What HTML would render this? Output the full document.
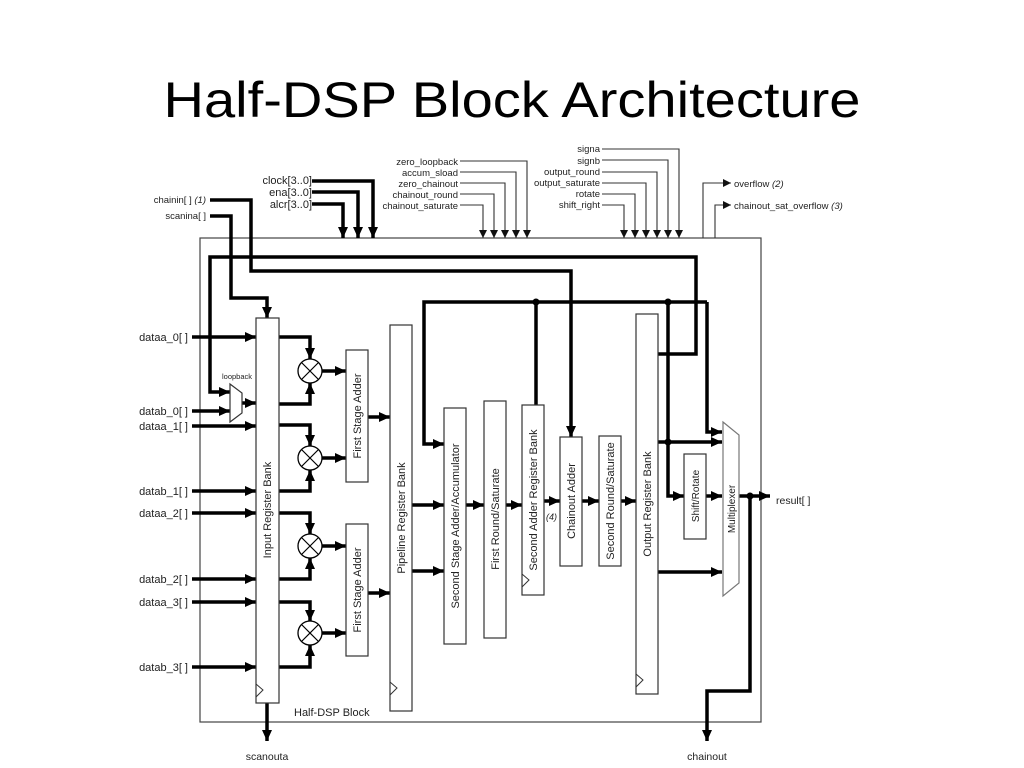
<!DOCTYPE html>
<html><head><meta charset="utf-8"><style>
html,body{margin:0;padding:0;background:#fff;}
svg{display:block;font-family:"Liberation Sans",Arial,sans-serif;}
</style></head><body>
<svg width="1024" height="768" viewBox="0 0 1024 768" xmlns="http://www.w3.org/2000/svg">
<defs>
<marker id="a" markerUnits="userSpaceOnUse" markerWidth="12" markerHeight="12" refX="11" refY="5" orient="auto"><path d="M0,0 L11,5 L0,10 z" fill="#000"/></marker>
<marker id="s" markerUnits="userSpaceOnUse" markerWidth="9" markerHeight="8" refX="8" refY="4" orient="auto"><path d="M0,0 L8,4 L0,8 z" fill="#111"/></marker>
</defs>
<text x="512" y="117" font-size="50" text-anchor="middle" textLength="697" lengthAdjust="spacingAndGlyphs" fill="#000">Half-DSP Block Architecture</text>

<!-- outer block -->
<rect x="200" y="238" width="561" height="484" fill="none" stroke="#444" stroke-width="1.2"/>
<text x="294" y="716" font-size="11" fill="#222">Half-DSP Block</text>

<g font-size="9.5" fill="#222">
<text x="312" y="184" text-anchor="end" font-size="11">clock[3..0]</text>
<text x="312" y="196" text-anchor="end" font-size="11">ena[3..0]</text>
<text x="312" y="208" text-anchor="end" font-size="11">alcr[3..0]</text>
<text x="206" y="203" text-anchor="end">chainin[ ] <tspan font-style="italic">(1)</tspan></text>
<text x="206" y="219" text-anchor="end">scanina[ ]</text>
<text x="458" y="165" text-anchor="end">zero_loopback</text>
<text x="458" y="176" text-anchor="end">accum_sload</text>
<text x="458" y="187" text-anchor="end">zero_chainout</text>
<text x="458" y="198" text-anchor="end">chainout_round</text>
<text x="458" y="209" text-anchor="end">chainout_saturate</text>
<text x="600" y="152" text-anchor="end">signa</text>
<text x="600" y="164" text-anchor="end">signb</text>
<text x="600" y="175" text-anchor="end">output_round</text>
<text x="600" y="186" text-anchor="end">output_saturate</text>
<text x="600" y="197" text-anchor="end">rotate</text>
<text x="600" y="208" text-anchor="end">shift_right</text>
<text x="734" y="187">overflow <tspan font-style="italic">(2)</tspan></text>
<text x="734" y="209">chainout_sat_overflow <tspan font-style="italic">(3)</tspan></text>
<text x="776" y="504" font-size="10.5">result[ ]</text>
<text x="267" y="760" text-anchor="middle" font-size="10.5">scanouta</text>
<text x="707" y="760" text-anchor="middle" font-size="10.5">chainout</text>
<text x="237" y="379" text-anchor="middle" font-size="7.5">loopback</text>
<text x="546" y="520" font-style="italic" font-size="9">(4)</text>
</g>
<g font-size="11" fill="#222" text-anchor="end">
<text x="188" y="341">dataa_0[ ]</text>
<text x="188" y="415">datab_0[ ]</text>
<text x="188" y="430">dataa_1[ ]</text>
<text x="188" y="495">datab_1[ ]</text>
<text x="188" y="517">dataa_2[ ]</text>
<text x="188" y="583">datab_2[ ]</text>
<text x="188" y="606">dataa_3[ ]</text>
<text x="188" y="671">datab_3[ ]</text>
</g>

<!-- thin control lines -->
<g fill="none" stroke="#333" stroke-width="1.1" marker-end="url(#s)">
<path d="M460,161 H527 V238"/>
<path d="M460,172 H516 V238"/>
<path d="M460,183 H505 V238"/>
<path d="M460,194 H494 V238"/>
<path d="M460,205 H483 V238"/>
<path d="M602,149 H679 V238"/>
<path d="M602,160 H668 V238"/>
<path d="M602,172 H657 V238"/>
<path d="M602,183 H646 V238"/>
<path d="M602,194 H635 V238"/>
<path d="M602,205 H624 V238"/>
<path d="M703,238 V183 H731"/>
<path d="M715,238 V205 H731"/>
</g>

<!-- thick wires -->
<g fill="none" stroke="#000" stroke-width="3.5">
<path d="M312,181 H373 V238" marker-end="url(#a)"/>
<path d="M312,192 H358 V238" marker-end="url(#a)"/>
<path d="M312,204 H343 V238" marker-end="url(#a)"/>
<path d="M210,200 H251 V271 H571 V437" marker-end="url(#a)"/>
<path d="M210,216 H231 V298 H267 V318" marker-end="url(#a)"/>
<path d="M658,354 H696 V257 H210 V392 H230" marker-end="url(#a)"/>
<path d="M536,405 V302"/>
<path d="M707,302 H424 V444 H444" marker-end="url(#a)"/>
<path d="M707,302 V432 H722" marker-end="url(#a)"/>
<path d="M668,302 V496 H684" marker-end="url(#a)"/>
<path d="M658,442 H722" marker-end="url(#a)"/>
<path d="M658,572 H722" marker-end="url(#a)"/>
<path d="M706,496 H722" marker-end="url(#a)"/>
<path d="M739,496 H770" marker-end="url(#a)"/>
<path d="M750,496 V691 H707 V741" marker-end="url(#a)"/>
<path d="M267,703 V741" marker-end="url(#a)"/>
<!-- data inputs -->
<path d="M192,337 H256" marker-end="url(#a)"/>
<path d="M192,411 H230" marker-end="url(#a)"/>
<path d="M242,403 H256" marker-end="url(#a)"/>
<path d="M192,426 H256" marker-end="url(#a)"/>
<path d="M192,491 H256" marker-end="url(#a)"/>
<path d="M192,513 H256" marker-end="url(#a)"/>
<path d="M192,579 H256" marker-end="url(#a)"/>
<path d="M192,602 H256" marker-end="url(#a)"/>
<path d="M192,667 H256" marker-end="url(#a)"/>
<!-- to multipliers -->
<path d="M279,337 H310 V359" marker-end="url(#a)"/>
<path d="M279,404 H310 V383" marker-end="url(#a)"/>
<path d="M279,425 H310 V446" marker-end="url(#a)"/>
<path d="M279,491 H310 V470" marker-end="url(#a)"/>
<path d="M279,513 H310 V534" marker-end="url(#a)"/>
<path d="M279,579 H310 V558" marker-end="url(#a)"/>
<path d="M279,602 H310 V621" marker-end="url(#a)"/>
<path d="M279,667 H310 V645" marker-end="url(#a)"/>
<path d="M322,371 H346" marker-end="url(#a)"/>
<path d="M322,458 H346" marker-end="url(#a)"/>
<path d="M322,546 H346" marker-end="url(#a)"/>
<path d="M322,633 H346" marker-end="url(#a)"/>
<path d="M368,417 H390" marker-end="url(#a)"/>
<path d="M368,593 H390" marker-end="url(#a)"/>
<path d="M412,505 H444" marker-end="url(#a)"/>
<path d="M412,571 H444" marker-end="url(#a)"/>
<path d="M466,505 H484" marker-end="url(#a)"/>
<path d="M506,505 H522" marker-end="url(#a)"/>
<path d="M544,501 H560" marker-end="url(#a)"/>
<path d="M582,501 H599" marker-end="url(#a)"/>
<path d="M621,501 H636" marker-end="url(#a)"/>
</g>
<g fill="#000"><circle cx="536" cy="302" r="3.5"/><circle cx="668" cy="302" r="3.5"/><circle cx="668" cy="442" r="3.5"/><circle cx="750" cy="496" r="3.5"/></g>

<!-- multipliers -->
<g fill="#fff" stroke="#000" stroke-width="1.3">
<circle cx="310" cy="371" r="12"/><circle cx="310" cy="458" r="12"/><circle cx="310" cy="546" r="12"/><circle cx="310" cy="633" r="12"/>
</g>
<g stroke="#000" stroke-width="1.2">
<path d="M302,363 L318,379 M318,363 L302,379"/>
<path d="M302,450 L318,466 M318,450 L302,466"/>
<path d="M302,538 L318,554 M318,538 L302,554"/>
<path d="M302,625 L318,641 M318,625 L302,641"/>
</g>

<!-- boxes -->
<g fill="#fff" stroke="#333" stroke-width="1.2">
<polygon points="230,384 242,393 242,413 230,422"/>
<rect x="256" y="318" width="23" height="385"/>
<rect x="346" y="350" width="22" height="132"/>
<rect x="346" y="524" width="22" height="132"/>
<rect x="390" y="325" width="22" height="386"/>
<rect x="444" y="408" width="22" height="236"/>
<rect x="484" y="401" width="22" height="237"/>
<rect x="522" y="405" width="22" height="190"/>
<rect x="560" y="437" width="22" height="129"/>
<rect x="599" y="436" width="22" height="130"/>
<rect x="636" y="314" width="22" height="380"/>
<rect x="684" y="454" width="22" height="85"/>
<polygon points="723,422 739,435 739,583 723,596" stroke="#777"/>
</g>
<g fill="none" stroke="#333" stroke-width="1">
<path d="M256,684 L263,690 L256,697"/>
<path d="M390,682 L397,688 L390,695"/>
<path d="M522,574 L529,580 L522,587"/>
<path d="M636,674 L643,680 L636,687"/>
</g>
<g font-size="11" fill="#222" text-anchor="middle">
<text transform="translate(271,510) rotate(-90)">Input Register Bank</text>
<text transform="translate(361,416) rotate(-90)">First Stage Adder</text>
<text transform="translate(361,590) rotate(-90)">First Stage Adder</text>
<text transform="translate(405,518) rotate(-90)">Pipeline Register Bank</text>
<text transform="translate(459,526) rotate(-90)">Second Stage Adder/Accumulator</text>
<text transform="translate(499,519) rotate(-90)">First Round/Saturate</text>
<text transform="translate(537,500) rotate(-90)">Second Adder Register Bank</text>
<text transform="translate(575,501) rotate(-90)">Chainout Adder</text>
<text transform="translate(614,501) rotate(-90)">Second Round/Saturate</text>
<text transform="translate(651,504) rotate(-90)">Output Register Bank</text>
<text transform="translate(699,496) rotate(-90)" font-size="10">Shift/Rotate</text>
<text transform="translate(735,509) rotate(-90)" font-size="10">Multiplexer</text>
</g>
</svg>
</body></html>
